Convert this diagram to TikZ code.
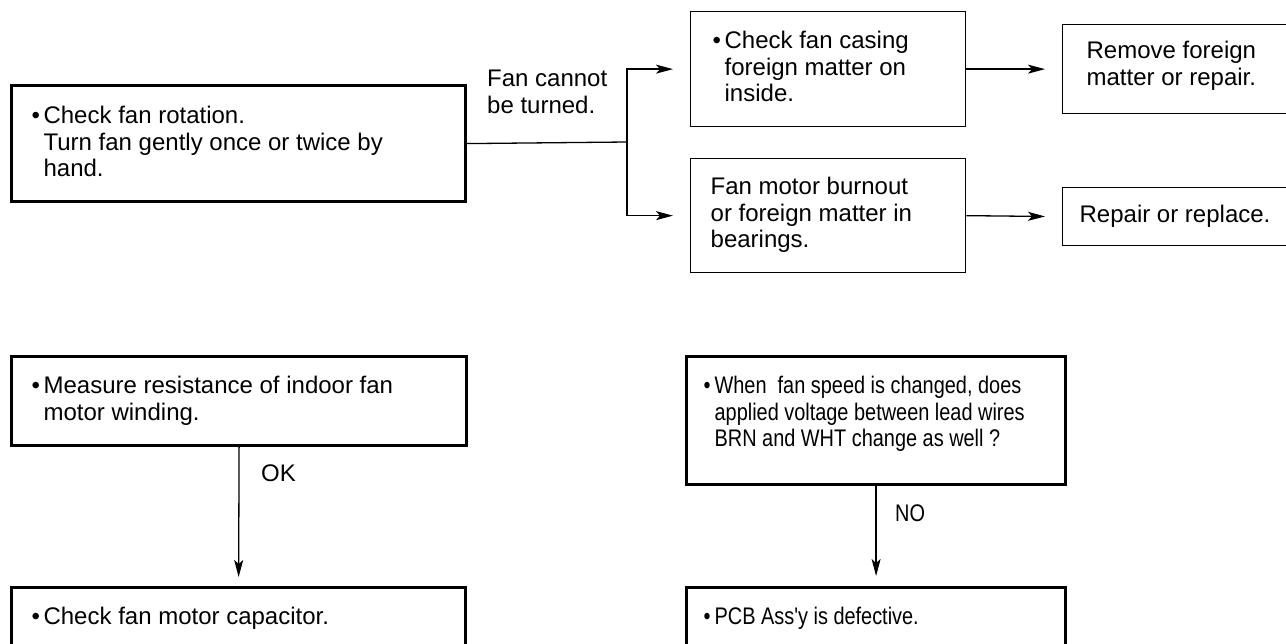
\documentclass[tikz,border=0pt]{standalone}
\usepackage{fontspec}
\setmainfont{Liberation Sans}
\newfontfamily\narrowfont[FakeStretch=0.83]{Liberation Sans}
\usetikzlibrary{arrows.meta}
\newcommand{\boxsize}{\fontsize{24}{26.5}\selectfont}
\newcommand{\narrowsize}{\narrowfont\boxsize}
\newcommand{\itembul}{\makebox[12pt][l]{\textbullet}}
\newcommand{\itempad}{\hspace*{12pt}}

\tikzset{
  thinbox/.style={draw, line width=1.3pt, anchor=north west, align=flush left, inner ysep=0pt},
  thickbox/.style={thinbox, line width=3.2pt},
  flow/.style={line width=1.3pt, -{Stealth[length=17pt,width=9pt,inset=4pt]}},
  lbl/.style={anchor=base west, inner sep=0pt, align=flush left},
}

\begin{document}
\begin{tikzpicture}[x=1pt,y=-1pt,font=\boxsize]
\useasboundingbox (0,0) rectangle (1286,644);

% fan rotation check and the two causes
\node[thickbox, inner xsep=20pt, text width=414pt, text height=38pt, text depth=78pt] (rot) at (10,84)
  {\itembul Check fan rotation.\\ \itempad Turn fan gently once or twice by\\ \itempad hand.};
\node[thinbox, inner xsep=22pt, text width=231pt, text height=37pt, text depth=78pt] (casing) at (690,11)
  {\itembul Check fan casing\\ \itempad foreign matter on\\ \itempad inside.};
\node[thinbox, inner xsep=20pt, text width=235pt, text height=36pt, text depth=78pt] (burn) at (690,158)
  {Fan motor burnout\\ or foreign matter in\\ bearings.};
\node[thinbox, inner xsep=24pt, text width=200pt, text height=34pt, text depth=55pt] (remove) at (1062,24)
  {Remove foreign\\ matter or repair.};
\node[thinbox, inner xsep=17pt, text width=214pt, text height=35pt, text depth=23pt] (replace) at (1062,187)
  {Repair or replace.};
\node[lbl, text width=130pt] (turnlbl) at (487,87) {Fan cannot\\ be turned.};

\coordinate (split) at (627,142);
\draw[line width=1.3pt] (rot.east) -- (split);
\draw[flow, shorten >=17pt] (split) |- (casing.west);
\draw[flow, shorten >=17pt] (split) |- (burn.west);
\draw[flow, shorten >=17pt] (casing.east) -- (remove.west);
\draw[flow, shorten >=17pt] (burn.east) -- (replace.west);

% winding resistance
\node[thickbox, inner xsep=20pt, text width=415pt, text height=37pt, text depth=52pt] (wind) at (10,355)
  {\itembul Measure resistance of indoor fan\\ \itempad motor winding.};
\node[thickbox, inner xsep=20pt, text width=414pt, text height=37pt, text depth=80pt] (capac) at (10,586)
  {\itembul Check fan motor capacitor.};
\draw[flow, shorten >=9pt] (wind.south) -- (capac.north);
\node[lbl] (oklbl) at (261,481) {OK};

% lead wire voltage
\node[thickbox, inner xsep=17pt, text width=345pt, text height=37pt, text depth=91pt, font=\narrowsize] (volt) at (685,355)
  {\makebox[11pt][l]{\textbullet}When\ \ fan speed is changed, does\\ \hspace*{11pt}applied voltage between lead wires\\ \hspace*{11pt}BRN and WHT change as well ?};
\node[thickbox, inner xsep=17pt, text width=345pt, text height=37pt, text depth=80pt, font=\narrowsize] (pcb) at (685,586)
  {\makebox[11pt][l]{\textbullet}PCB Ass'y is defective.};
\draw[flow, shorten >=10pt] (volt.south) -- (pcb.north);
\node[lbl, font=\narrowsize] (nolbl) at (895,521) {NO};
\end{tikzpicture}
\end{document}
